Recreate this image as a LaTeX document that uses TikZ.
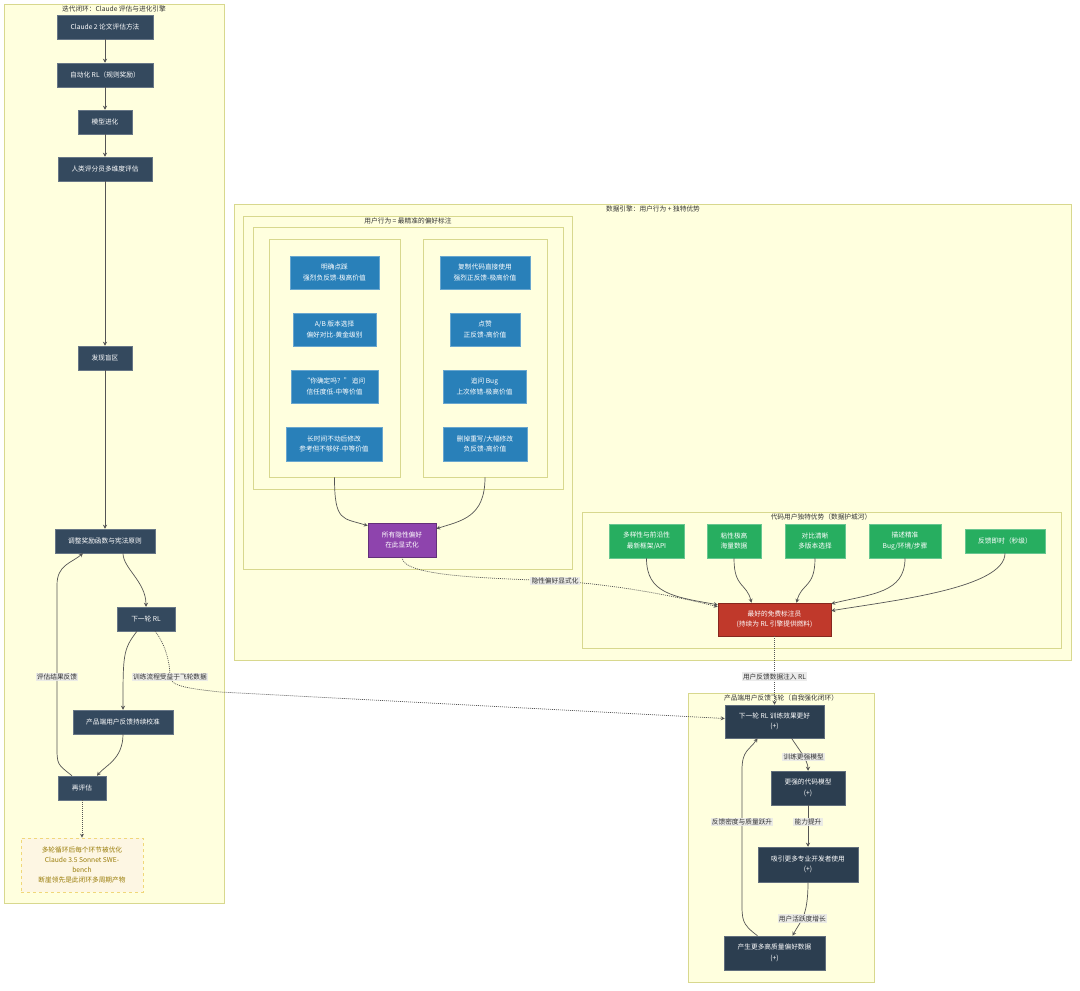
\documentclass[tikz,border=0pt]{standalone}
\usepackage{fontspec}
\setmainfont{Noto Sans CJK SC}
\usetikzlibrary{arrows.meta}
\definecolor{clfill}{HTML}{FFFFDE}
\definecolor{clline}{HTML}{D8D88E}
\definecolor{txt}{HTML}{333333}
\definecolor{dkA}{HTML}{34495E}
\definecolor{dkB}{HTML}{2C3E50}
\definecolor{blu}{HTML}{2980B9}
\definecolor{grn}{HTML}{27AE60}
\definecolor{rd}{HTML}{C0392B}
\definecolor{pur}{HTML}{8E44AD}
\definecolor{notefill}{HTML}{FDF6E3}
\definecolor{noteline}{HTML}{F0D77A}
\definecolor{notetxt}{HTML}{9A7D0A}
\definecolor{edge}{HTML}{555555}
\definecolor{lblbg}{HTML}{E8E8E8}
\begin{document}
\begin{tikzpicture}[x=1pt,y=-1pt,
  every node/.style={font=\fontsize{6.7}{10.5}\selectfont, inner sep=0pt, align=center},
  clus/.style={draw=clline, fill=clfill, line width=0.9pt},
  ttl/.style={text=txt},
  base/.style={text=white, line width=0.5pt},
  dka/.style={base, fill=dkA, draw=dkA!75!white},
  dkb/.style={base, fill=dkB, draw=dkB!75!white},
  bl/.style={base, fill=blu, draw=blu!70!white},
  gr/.style={base, fill=grn, draw=grn!70!white},
  rdn/.style={base, fill=rd, draw=rd!70!black},
  pu/.style={base, fill=pur, draw=pur!70!black},
  note/.style={fill=notefill, draw=noteline, dashed, line width=0.6pt, text=notetxt, font=\fontsize{6.7}{10}\selectfont},
  arr/.style={draw=edge, line width=0.7pt, -{Stealth[length=4pt,width=4pt]}},
  dot/.style={arr, dash pattern=on 1pt off 1pt},
  lbl/.style={fill=lblbg, fill opacity=0.85, text opacity=1, text=txt, inner sep=1.2pt}
]
\fill[white] (0,0) rectangle (1080,991);
\useasboundingbox (0,0) rectangle (1080,991);

% ---------- clusters ----------
\node[clus, minimum width=220, minimum height=899] (cA) at (114,453.5) {};
\node[ttl] (tA) at (114,9) {迭代闭环：Claude 评估与进化引擎};
\node[clus, minimum width=837, minimum height=456] (cB) at (652.5,432) {};
\node[ttl] (tB) at (653,209) {数据引擎：用户行为 + 独特优势};
\node[clus, minimum width=329, minimum height=353] (cU) at (407.5,392.5) {};
\node[ttl] (tU) at (408,221) {用户行为 = 最精准的偏好标注};
\node[clus, minimum width=310, minimum height=262] (cI) at (408,358) {};
\node[clus, minimum width=131, minimum height=238] (Lbox) at (334.5,358) {};
\node[clus, minimum width=124, minimum height=238] (Rbox) at (485,358) {};
\node[clus, minimum width=479, minimum height=136] (cC) at (821.5,580) {};
\node[ttl] (tC) at (821,517) {代码用户独特优势（数据护城河）};
\node[clus, minimum width=186, minimum height=289] (cF) at (781,837.5) {};
\node[ttl] (tF) at (781,698) {产品端用户反馈飞轮（自我强化闭环）};

% ---------- left loop ----------
\node[dka, minimum width=96, minimum height=24] (n1) at (105,27) {Claude 2 论文评估方法};
\node[dka, minimum width=96, minimum height=24] (n2) at (105,75) {自动化 RL（规则奖励）};
\node[dka, minimum width=54, minimum height=24] (n3) at (105,122) {模型进化};
\node[dka, minimum width=94, minimum height=24] (n4) at (105,169) {人类评分员多维度评估};
\node[dka, minimum width=54, minimum height=24] (n5) at (105,358) {发现盲区};
\node[dka, minimum width=100, minimum height=24] (n6) at (105,541) {调整奖励函数与宪法原则};
\node[dka, minimum width=58, minimum height=24] (n7) at (146,619) {下一轮 RL};
\node[dka, minimum width=100, minimum height=24] (n8) at (123,722) {产品端用户反馈持续校准};
\node[dka, minimum width=48, minimum height=24] (n9) at (82,788) {再评估};
\node[note, minimum width=122, minimum height=54] (nt) at (82,865) {多轮循环后每个环节被优化\\Claude 3.5 Sonnet SWE-\\bench\\断崖领先是此闭环多周期产物};

% ---------- user behaviour ----------
\node[bl, minimum width=89, minimum height=33] (L1) at (334.5,272.5) {明确点踩\\强烈负反馈-极高价值};
\node[bl, minimum width=83, minimum height=33] (L2) at (334.5,329.5) {A/B 版本选择\\偏好对比-黄金级别};
\node[bl, minimum width=87, minimum height=33] (L3) at (334.5,386.5) {“你确定吗？” 追问\\信任度低-中等价值};
\node[bl, minimum width=96, minimum height=34] (L4) at (334,444) {长时间不动后修改\\参考但不够好-中等价值};
\node[bl, minimum width=90, minimum height=33] (R1) at (485,272.5) {复制代码直接使用\\强烈正反馈-极高价值};
\node[bl, minimum width=70, minimum height=33] (R2) at (485,329.5) {点赞\\正反馈-高价值};
\node[bl, minimum width=83, minimum height=33] (R3) at (484.5,386.5) {追问 Bug\\上次修错-极高价值};
\node[bl, minimum width=84, minimum height=34] (R4) at (485,444) {删掉重写/大幅修改\\负反馈-高价值};
\node[pu, minimum width=68, minimum height=34] (P) at (402,540) {所有隐性偏好\\在此显式化};

% ---------- advantages ----------
\node[gr, minimum width=75, minimum height=34] (G1) at (646.5,541) {多样性与前沿性\\最新框架/API};
\node[gr, minimum width=54, minimum height=34] (G2) at (734,541) {粘性极高\\海量数据};
\node[gr, minimum width=60, minimum height=34] (G3) at (815,541) {对比清晰\\多版本选择};
\node[gr, minimum width=72, minimum height=34] (G4) at (905,541) {描述精准\\Bug/环境/步骤};
\node[gr, minimum width=80, minimum height=24] (G5) at (1005,541) {反馈即时（秒级）};
\node[rdn, minimum width=113, minimum height=33] (R) at (774.5,619.5) {最好的免费标注员\\(持续为 RL 引擎提供燃料)};

% ---------- flywheel ----------
\node[dkb, minimum width=99, minimum height=33] (B1) at (774.5,721.5) {下一轮 RL 训练效果更好\\(+)};
\node[dkb, minimum width=74, minimum height=34] (B2) at (808,788) {更强的代码模型\\(+)};
\node[dkb, minimum width=100, minimum height=35] (B3) at (808,864.5) {吸引更多专业开发者使用\\(+)};
\node[dkb, minimum width=101, minimum height=34] (B4) at (774.5,953) {产生更多高质量偏好数据\\(+)};

% ---------- edges: left loop ----------
\draw[arr] (n1) -- (n2);
\draw[arr] (n2) -- (n3);
\draw[arr] (n3) -- (n4);
\draw[arr] (n4) -- (n5);
\draw[arr] (n5) -- (n6);
\draw[arr] ([xshift=18pt]n6.south) .. controls +(0,15) and +(0,-25) .. (n7.north);
\draw[arr] ([xshift=-9pt]n7.south) .. controls +(-14,18) and +(0,-55) .. (n8.north);
\draw[arr] (n8.south) .. controls +(0,25) and +(8,-10) .. ([xshift=15pt]n9.north);
\draw[arr] ([xshift=-10pt]n9.north) .. controls +(-15,-12) and +(0,20) .. (57,745)
   -- node[lbl, pos=0.425] {评估结果反馈} (57,585)
   .. controls +(0,-20) and +(-12,10) .. ([xshift=-22pt]n6.south);
\draw[dot] (n9) -- (nt);
\draw[dot] ([xshift=9pt]n7.south) .. controls +(10,12) and +(0,-15) .. (170,677)
   node[lbl] {训练流程受益于飞轮数据}
   .. controls +(0,10) and +(-25,-3) .. (220,692) -- ([yshift=3pt]B1.west);

% ---------- edges: data engine ----------
\draw[arr] (Lbox.south) .. controls +(0,45) and +(-25,-8) .. ([yshift=-3pt]P.north west);
\draw[arr] (Rbox.south) .. controls +(0,40) and +(25,-8) .. ([yshift=-6pt]P.north east);
\draw[dot] (P.south) .. controls +(0,20) and +(-60,-3) .. (555,581) node[lbl] {隐性偏好显式化}
   .. controls +(60,3) and +(-40,-10) .. ([yshift=-4pt]R.north west);
\draw[arr] (G1.south) .. controls +(0,35) and +(-45,-8) .. ([yshift=-2pt]R.north west);
\draw[arr] (G2.south) .. controls +(0,30) and +(-5,-20) .. ([xshift=-23pt]R.north);
\draw[arr] (G3.south) .. controls +(0,30) and +(5,-20) .. ([xshift=22pt]R.north);
\draw[arr] (G4.south) .. controls +(0,35) and +(40,-10) .. ([yshift=-1pt]R.north east);
\draw[arr] (G5.south) .. controls +(0,35) and +(60,-10) .. ([yshift=-8pt]R.north east);
\draw[dot] (R.south) -- node[lbl, pos=0.59] {用户反馈数据注入 RL} (B1.north);

% ---------- edges: flywheel ----------
\draw[arr] ([xshift=17pt]B1.south) .. controls +(8,12) and +(0,-10) .. node[lbl, pos=0.55] {训练更强模型} (B2.north);
\draw[arr] (B2) -- node[lbl, pos=0.4] {能力提升} (B3);
\draw[arr] (B3.south) .. controls +(0,35) and +(8,-15) .. node[lbl, pos=0.55] {用户活跃度增长} ([xshift=18pt]B4.north);
\draw[arr] ([xshift=-17pt]B4.north) .. controls +(-16,-12) and +(0,20) .. (742,900)
   -- node[lbl, pos=0.6] {反馈密度与质量跃升} (742,770)
   .. controls +(0,-20) and +(-8,12) .. ([xshift=-17pt]B1.south);
\end{tikzpicture}
\end{document}
